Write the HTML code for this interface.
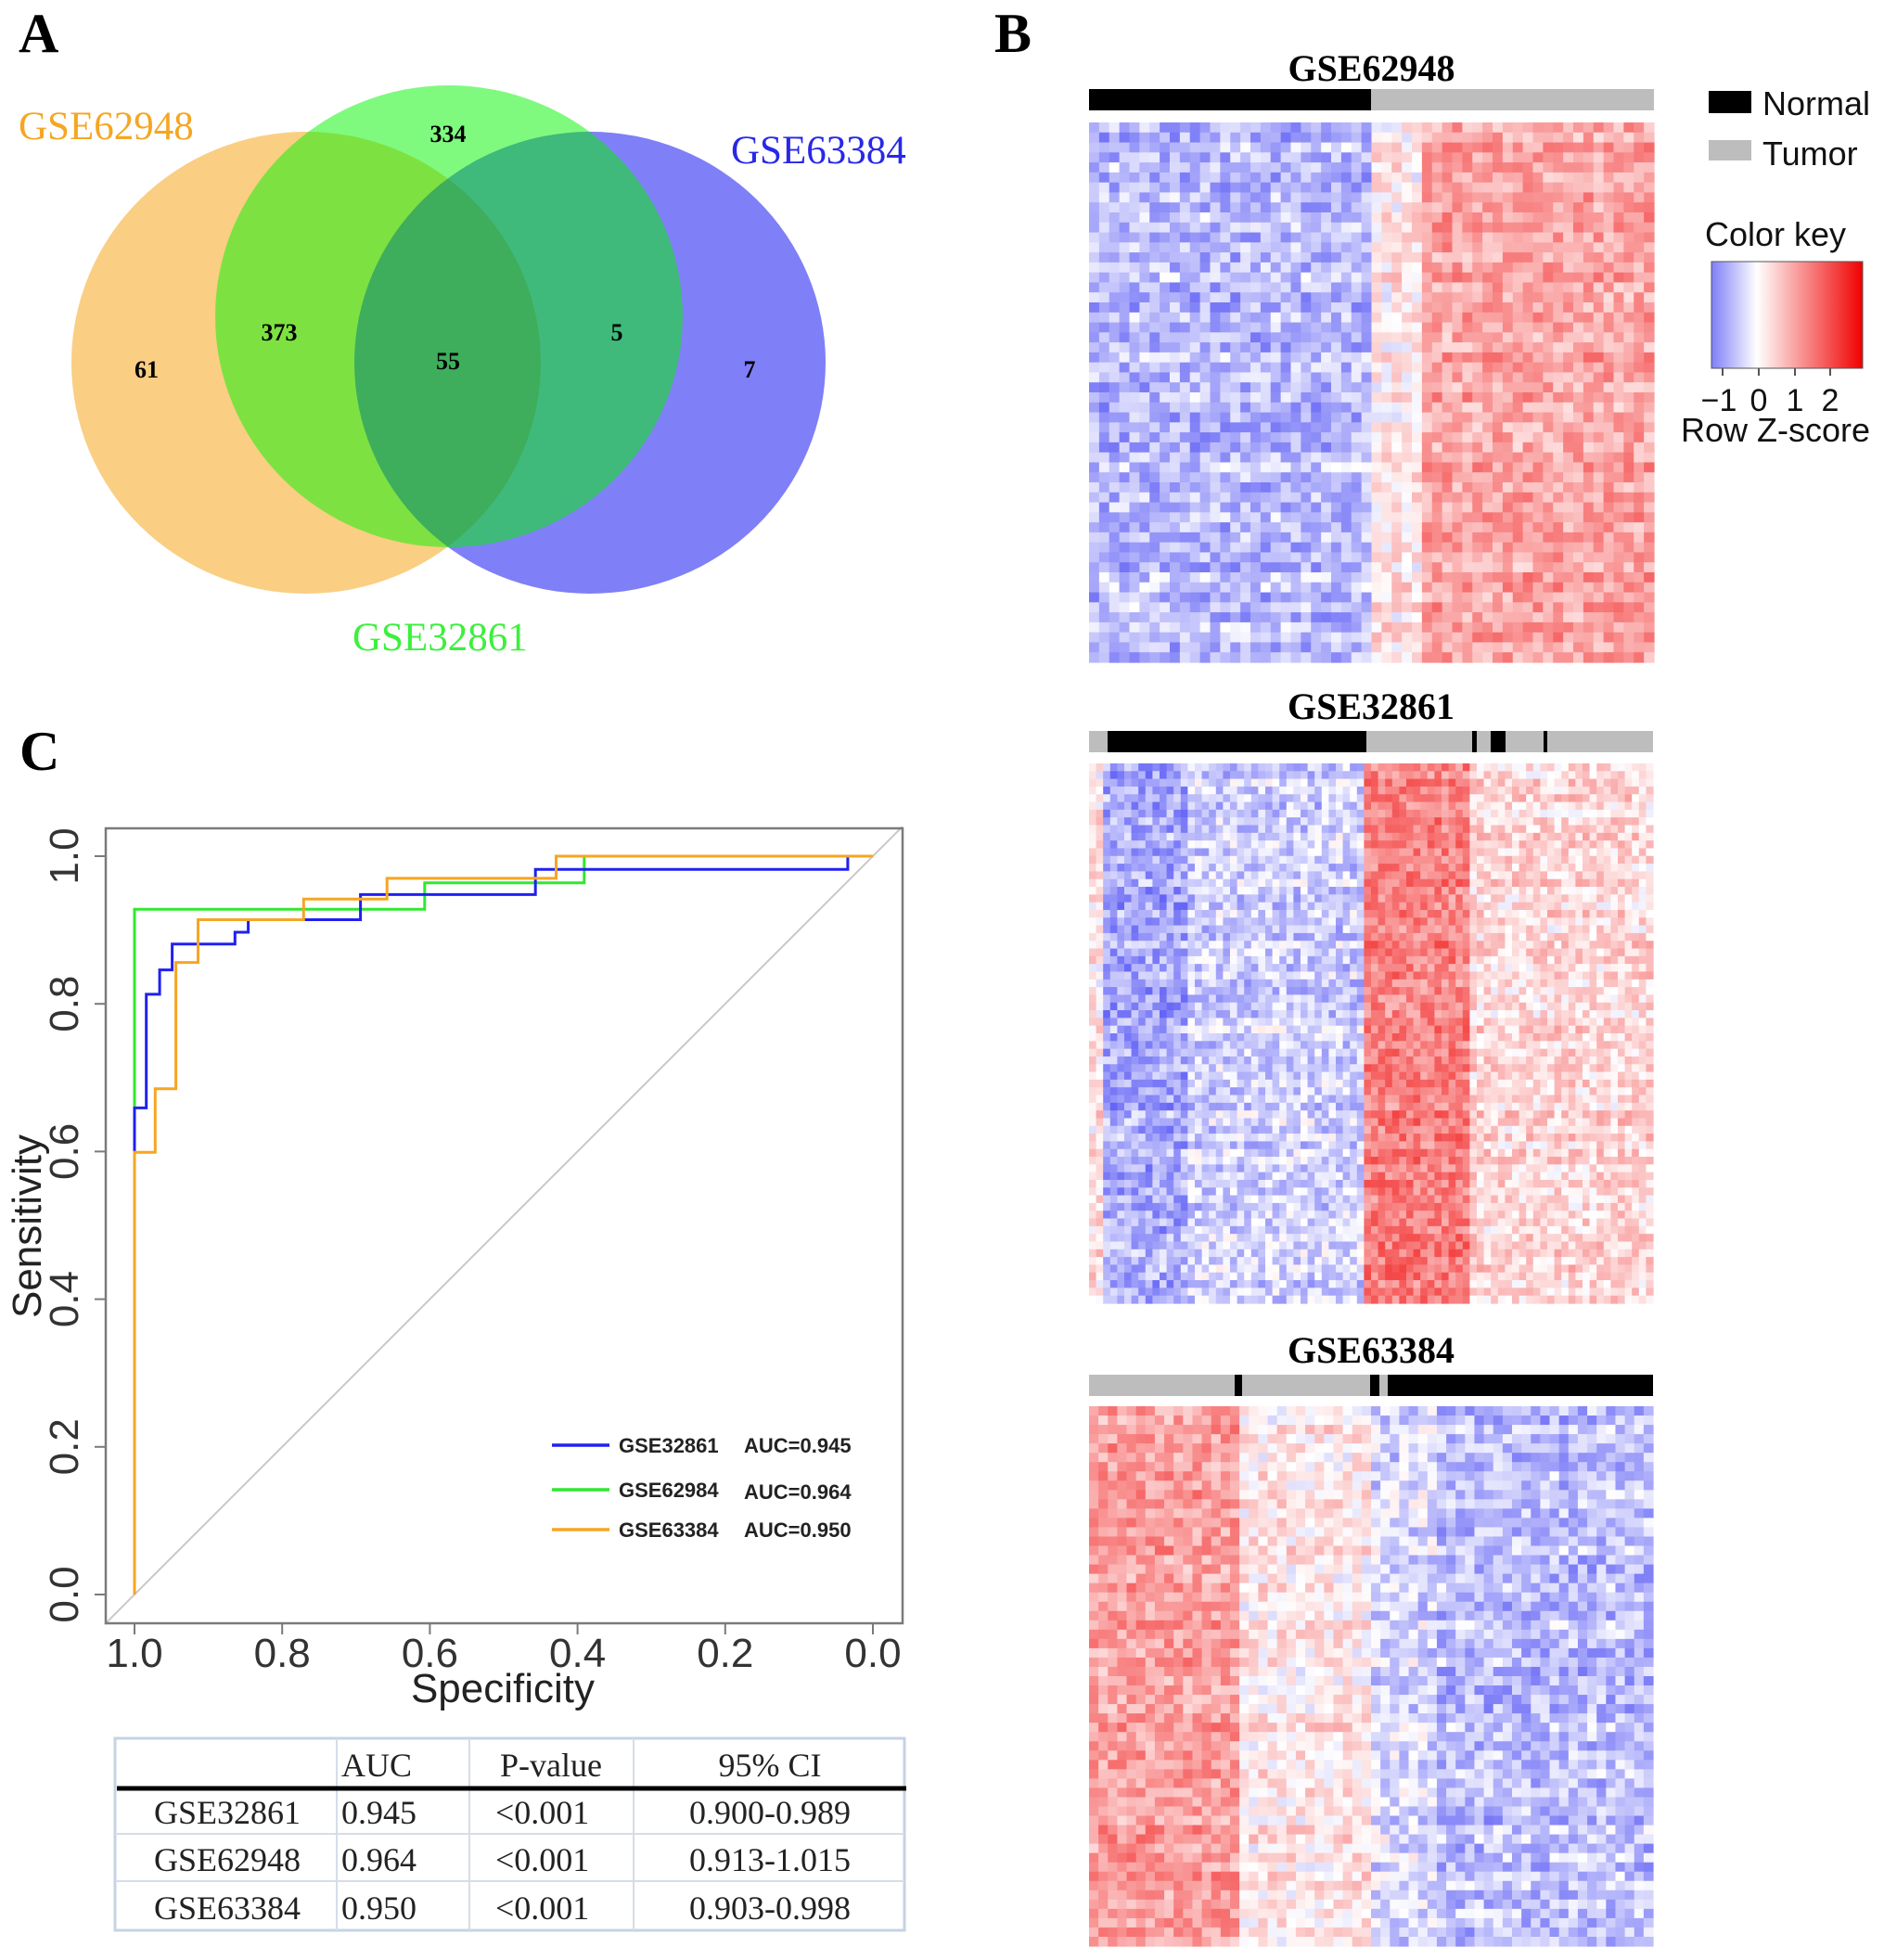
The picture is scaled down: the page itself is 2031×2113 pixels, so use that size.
<!DOCTYPE html>
<html><head><meta charset="utf-8"><style>
html,body{margin:0;padding:0;background:#fff}
svg{display:block}
</style></head><body>
<svg id="fig" width="2031" height="2113" viewBox="0 0 2031 2113" xmlns="http://www.w3.org/2000/svg">
<rect x="0" y="0" width="2031" height="2113" fill="#fff"/>
<text x="20" y="56" font-family="Liberation Serif, serif" font-weight="bold" font-size="60">A</text>
<text x="1072" y="56" font-family="Liberation Serif, serif" font-weight="bold" font-size="60">B</text>
<text x="21" y="830" font-family="Liberation Serif, serif" font-weight="bold" font-size="60">C</text>

<g>
<ellipse cx="330" cy="391" rx="253" ry="249" fill="rgb(245,165,30)" fill-opacity="0.55"/>
<ellipse cx="636" cy="391" rx="254" ry="249" fill="rgb(0,0,240)" fill-opacity="0.5"/>
<ellipse cx="484" cy="341" rx="252" ry="249" fill="rgb(0,245,0)" fill-opacity="0.5"/>
<g font-family="Liberation Serif, serif" font-size="43">
<text x="20" y="150" fill="#f5a623">GSE62948</text>
<text x="788" y="176" fill="#2828e8">GSE63384</text>
<text x="380" y="701" fill="#3cf03c">GSE32861</text>
</g>
<g font-family="Liberation Serif, serif" font-weight="bold" font-size="26" text-anchor="middle">
<text x="483" y="153">334</text>
<text x="301" y="367">373</text>
<text x="158" y="407">61</text>
<text x="483" y="398">55</text>
<text x="665" y="367">5</text>
<text x="808" y="407">7</text>
</g>
</g>

<g id="roc"></g>

<g font-family="Liberation Serif, serif" font-size="36" fill="#222">
<rect x="124" y="1874" width="851" height="207" fill="none" stroke="#c5d3e3" stroke-width="3"/>
<line x1="363" y1="1874" x2="363" y2="2081" stroke="#d5dde8" stroke-width="2"/>
<line x1="506" y1="1874" x2="506" y2="2081" stroke="#d5dde8" stroke-width="2"/>
<line x1="683" y1="1874" x2="683" y2="2081" stroke="#d5dde8" stroke-width="2"/>
<line x1="124" y1="1977" x2="975" y2="1977" stroke="#d5dde8" stroke-width="2"/>
<line x1="124" y1="2028" x2="975" y2="2028" stroke="#d5dde8" stroke-width="2"/>
<line x1="126" y1="1928" x2="977" y2="1928" stroke="#000" stroke-width="5"/>
<text x="368" y="1915">AUC</text>
<text x="594" y="1915" text-anchor="middle">P-value</text>
<text x="830" y="1915" text-anchor="middle">95% CI</text>
<text x="166" y="1966">GSE32861</text>
<text x="368" y="1966">0.945</text>
<text x="534" y="1966">&lt;0.001</text>
<text x="830" y="1966" text-anchor="middle">0.900-0.989</text>
<text x="166" y="2017">GSE62948</text>
<text x="368" y="2017">0.964</text>
<text x="534" y="2017">&lt;0.001</text>
<text x="830" y="2017" text-anchor="middle">0.913-1.015</text>
<text x="166" y="2069">GSE63384</text>
<text x="368" y="2069">0.950</text>
<text x="534" y="2069">&lt;0.001</text>
<text x="830" y="2069" text-anchor="middle">0.903-0.998</text>
</g>

<g id="heat"></g>

<defs>
<linearGradient id="ck" x1="0" x2="1" y1="0" y2="0">
<stop offset="0" stop-color="#7f7ff8"/>
<stop offset="0.3" stop-color="#ffffff"/>
<stop offset="1" stop-color="#f00000"/>
</linearGradient>
</defs>
<g font-family="Liberation Sans, sans-serif" font-size="36" fill="#111">
<rect x="1842" y="98" width="46" height="24" fill="#000"/>
<text x="1900" y="124">Normal</text>
<rect x="1842" y="151" width="46" height="22" fill="#bdbdbd"/>
<text x="1900" y="178">Tumor</text>
<text x="1838" y="265">Color key</text>
<rect x="1845" y="282" width="163" height="115" fill="url(#ck)" stroke="#555" stroke-width="1"/>
<g stroke="#555" stroke-width="2">
<line x1="1857" y1="397" x2="1857" y2="405"/><line x1="1896" y1="397" x2="1896" y2="405"/>
<line x1="1935" y1="397" x2="1935" y2="405"/><line x1="1973" y1="397" x2="1973" y2="405"/>
</g>
<g text-anchor="middle" font-size="34">
<text x="1853" y="443">−1</text><text x="1896" y="443">0</text><text x="1935" y="443">1</text><text x="1973" y="443">2</text>
</g>
<text x="1812" y="476">Row Z-score</text>
</g>
</svg>
<script>
const rocSeriesNames = ["GSE32861","GSE62984","GSE63384"];
const rocAUCLabels = ["AUC=0.945","AUC=0.964","AUC=0.950"];
const blueSpec = [1,1,0.984,0.984,0.966,0.966,0.949,0.949,0.864,0.864,0.846,0.846,0.694,0.694,0.457,0.457,0.034,0.034,0];
const blueSens = [0,0.659,0.659,0.813,0.813,0.846,0.846,0.881,0.881,0.897,0.897,0.914,0.914,0.948,0.948,0.982,0.982,1,1];
const greenSpec = [1,1,0.607,0.607,0.391,0.391,0];
const greenSens = [0,0.928,0.928,0.964,0.964,1,1];
const orangeSpec = [1,1,0.972,0.972,0.944,0.944,0.914,0.914,0.771,0.771,0.658,0.658,0.429,0.429,0];
const orangeSens = [0,0.599,0.599,0.685,0.685,0.856,0.856,0.914,0.914,0.942,0.942,0.970,0.970,1,1];
const xTicks = [1.0,0.8,0.6,0.4,0.2,0.0];
const yTicks = [0.0,0.2,0.4,0.6,0.8,1.0];
const tickLabelsX = ["1.0","0.8","0.6","0.4","0.2","0.0"];
const tickLabelsY = ["0.0","0.2","0.4","0.6","0.8","1.0"];

const hm1Blocks = [28,5,23];
const hm1Means = [-0.6,0.25,0.95];
const hm1Rows = 54;
const hm2Blocks = [2,12,25,15,26];
const hm2Means = [0.3,-0.75,-0.4,1.3,0.4];
const hm2Rows = 70;
const hm3Blocks = [16,14,7,23];
const hm3Means = [1.0,0.25,-0.3,-0.55];
const hm3Rows = 58;

const NS="http://www.w3.org/2000/svg";
function mk(tag,attrs,parent){const e=document.createElementNS(NS,tag);for(const k in attrs)e.setAttribute(k,attrs[k]);parent.appendChild(e);return e;}

const L=114,R=973,T=893,B=1750;
const sx=v=>145+(1-v)*796;
const sy=v=>1719-v*796;
const roc=document.getElementById('roc');
const diag=mk('line',{x1:sx(1.04),y1:sy(-0.04),x2:sx(-0.04),y2:sy(1.04),stroke:'#c8c8c8','stroke-width':2},roc);


const box=mk('rect',{x:L,y:T,width:R-L,height:B-T,fill:'none',stroke:'#7a7a7a','stroke-width':2.5},roc);


xTicks.forEach((v,i)=>{
  mk('line',{x1:sx(v),y1:B,x2:sx(v),y2:B+12,stroke:'#7a7a7a','stroke-width':2},roc);
  const t=mk('text',{x:sx(v),y:1797,'text-anchor':'middle','font-family':'Liberation Sans, sans-serif','font-size':44,fill:'#333'},roc);
  t.textContent=tickLabelsX[i];
  
  
});
yTicks.forEach((v,i)=>{
  mk('line',{x1:L,y1:sy(v),x2:L-12,y2:sy(v),stroke:'#7a7a7a','stroke-width':2},roc);
  const t=mk('text',{x:0,y:0,transform:`translate(84,${sy(v)}) rotate(-90)`,'text-anchor':'middle','font-family':'Liberation Sans, sans-serif','font-size':44,fill:'#333'},roc);
  t.textContent=tickLabelsY[i];
  
  
});
const xt=mk('text',{x:542,y:1835,'text-anchor':'middle','font-family':'Liberation Sans, sans-serif','font-size':44,fill:'#222'},roc);
xt.textContent='Specificity';


const yt=mk('text',{x:0,y:0,transform:'translate(44,1322) rotate(-90)','text-anchor':'middle','font-family':'Liberation Sans, sans-serif','font-size':44,fill:'#222'},roc);
yt.textContent='Sensitivity';



const series=[[blueSpec,blueSens,'#2020f0'],[greenSpec,greenSens,'#30e830'],[orangeSpec,orangeSens,'#f5a623']];
const drawOrder=[1,0,2];
drawOrder.forEach(i=>{
  const [xs,ys,c]=series[i];
  const pts=xs.map((x,j)=>sx(x).toFixed(1)+','+sy(ys[j]).toFixed(1)).join(' ');
  const p=mk('polyline',{points:pts,fill:'none',stroke:c,'stroke-width':3},roc);
  
  
});
const legY=[1558,1606,1649];
series.forEach((s,i)=>{
  const l=mk('line',{x1:595,y1:legY[i],x2:657,y2:legY[i],stroke:s[2],'stroke-width':3.5},roc);
  
  
  const a=mk('text',{x:667,y:legY[i]+8,'font-family':'Liberation Sans, sans-serif','font-weight':'bold','font-size':22,fill:'#222'},roc);
  a.textContent=rocSeriesNames[i];
  
  
  const b=mk('text',{x:802,y:legY[i]+8+(i==1?2:0),'font-family':'Liberation Sans, sans-serif','font-weight':'bold','font-size':22,fill:'#222'},roc);
  b.textContent=rocAUCLabels[i];
  
  
});

const heat=document.getElementById('heat');
function hash(a,b,c){let h=(a*374761393+b*668265263+c*2147483647)|0;h=(h^(h>>>13))*1274126177|0;h=h^(h>>>16);return ((h>>>0)%10000)/10000;}
function col(v){
  if(v<0){const t=Math.min(1,-v/1.5);return `rgb(${Math.round(255-t*170)},${Math.round(255-t*170)},${Math.round(255-t*10)})`;}
  const t=Math.min(1,v/2.6);return `rgb(${Math.round(255-t*15)},${Math.round(255-t*255)},${Math.round(255-t*255)})`;
}
function heatmap(id,x0,y0,w,h,blocks,means,rows,title,titleY,annot,annotY){
  const g=mk('g',{},heat);
  
  
  const cols=blocks.reduce((a,b)=>a+b,0);
  const cw=w/cols,rh=h/rows;
  let c=0;
  blocks.forEach((n,bi)=>{
    for(let k=0;k<n;k++,c++){
      for(let r=0;r<rows;r++){
        const noise=(hash(c,r,id.length)-0.5)*1.0+(hash(0,r,11)-0.5)*0.3;
        mk('rect',{x:(x0+c*cw).toFixed(2),y:(y0+r*rh).toFixed(2),width:(cw+0.6).toFixed(2),height:(rh+0.6).toFixed(2),fill:col(means[bi]+noise)},g);
      }
    }
  });
  const t=mk('text',{x:x0+w/2,y:titleY,'text-anchor':'middle','font-family':'Liberation Serif, serif','font-weight':'bold','font-size':40},g);
  t.textContent=title;
  
  
  mk('rect',{x:x0,y:annotY,width:w,height:23,fill:'#bdbdbd'},g);
  annot.forEach(a=>{
    const r=mk('rect',{x:a[0],y:annotY,width:a[1]-a[0],height:23,fill:'#000'},g);
    
    
  });
}
heatmap('gse62948',1174,132,609,582,hm1Blocks,hm1Means,hm1Rows,'GSE62948',87,[[1174,1478]],96);
heatmap('gse32861',1174,823,608,582,hm2Blocks,hm2Means,hm2Rows,'GSE32861',775,[[1194,1473],[1587,1592],[1607,1623],[1664,1668]],788);
heatmap('gse63384',1174,1516,608,582,hm3Blocks,hm3Means,hm3Rows,'GSE63384',1469,[[1331,1339],[1477,1487],[1496,1782]],1482);
</script>
</body></html>
